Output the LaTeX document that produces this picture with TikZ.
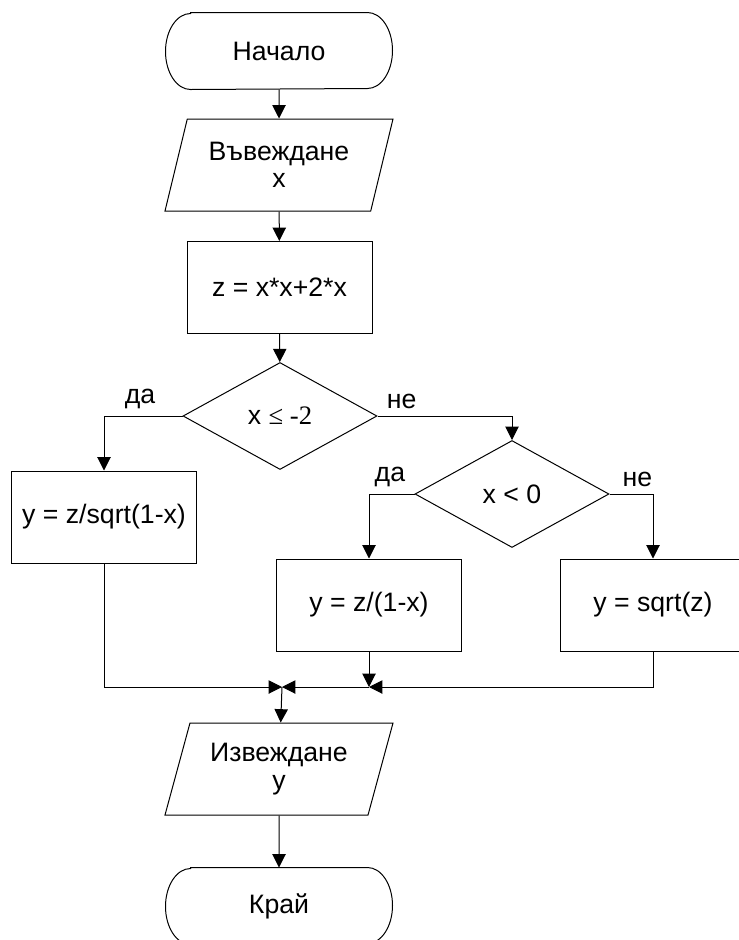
\documentclass[tikz,border=0pt]{standalone}
\usepackage{fontspec}
\setmainfont{Liberation Sans}
\newfontfamily\seriffont{Liberation Serif}
\usepackage{tikz}
\usetikzlibrary{arrows.meta}
\usetikzlibrary{shapes.geometric}

\begin{document}
\begin{tikzpicture}[x=0.75pt, y=-0.75pt,
        every node/.style={font=\fontsize{20}{20.5}\selectfont},
        terminal/.style={rectangle, minimum width=226*0.75pt, minimum height=76*0.75pt},
        inout/.style={draw, trapezium, trapezium left angle=64, trapezium right angle=116,
            trapezium stretches body, minimum width=228*0.75pt, minimum height=92*0.75pt,
            align=center, inner sep=0pt},
        process/.style={draw, rectangle, minimum width=185*0.75pt, minimum height=92*0.75pt},
        decision/.style={draw, diamond, aspect=1.8, inner sep=0pt,
            minimum width=194*0.75pt, minimum height=107*0.75pt},
        arr/.style={-{Triangle[length=10pt, width=10pt]}},
        lbl/.style={above, yshift=1.5pt},
        line width=0.75pt]
        \def\rx{18.75pt}
        \def\ry{28.5pt}
        \useasboundingbox (0,0) rectangle (739,940);

        % Blocks
        \node[terminal] (start) at (279,51) {Начало};
        \node[inout] (input) at (279,165) {Въвеждане\\x};
        \node[process] (calc) at (279.5,287.5) {z = x*x+2*x};
        \node[decision] (cond1) at (280,416) {x {\seriffont ≤ -2}};
        \node[process] (lbox) at (104,517) {y = z/sqrt(1-x)};
        \node[decision] (cond2) at (512,494) {x < 0};
        \node[process] (mbox) at (369,605) {y = z/(1-x)};
        \node[process] (rbox) at (653,605) {y = sqrt(z)};
        \node[inout] (output) at (279,769) {Извеждане\\y};
        \node[terminal] (stop) at (279,906) {Край};

        % Terminal outlines
        \foreach \t in {start, stop}
            \draw ([xshift=\rx]\t.north west) -- ([xshift=-\rx]\t.north east)
                arc[start angle=90, end angle=-90, x radius=\rx, y radius=\ry]
                -- ([xshift=\rx]\t.south west)
                arc[start angle=270, end angle=90, x radius=\rx, y radius=\ry] -- cycle;

        \coordinate (join) at (282,687);
        \coordinate (joinm) at (369,687);

        % Flow
        \draw[arr] (start) -- (input);
        \draw[arr] (input) -- (calc);
        \draw[arr] (calc) -- (cond1);
        \draw[arr] (cond1.west) -| node[pos=0.27, lbl] {да} (lbox);
        \draw[arr] (cond1.east) -| node[pos=0.09, lbl] {не} (cond2);
        \draw[arr] (cond2.west) -| node[pos=0.27, lbl] {да} (mbox);
        \draw[arr] (cond2.east) -| node[pos=0.32, lbl] {не} (rbox);

        % Merge
        \draw[arr] (lbox) |- (join);
        \draw[arr] (rbox) |- (joinm);
        \draw[arr] (joinm) -- (join);
        \draw[arr] (mbox) -- (joinm);
        \draw[arr] (join) -- (output);
        \draw[arr] (output) -- (stop);
    \end{tikzpicture}
\end{document}
